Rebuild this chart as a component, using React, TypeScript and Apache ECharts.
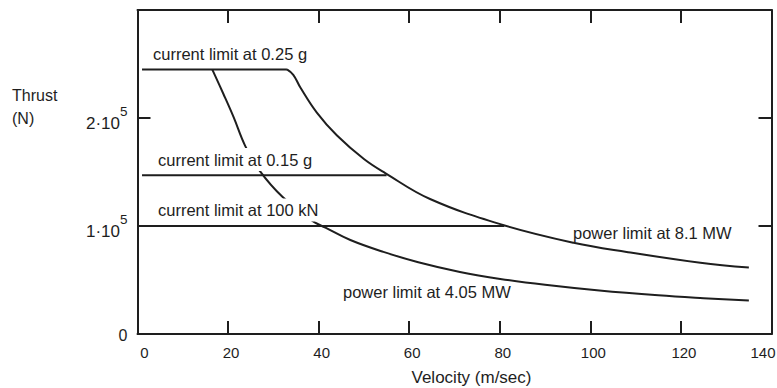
import React, { useEffect, useRef } from "react";
import * as echarts from "echarts";

// ---- data ----
const velocityTicks = [0, 20, 40, 60, 80, 100, 120, 140];
const yLabelMain = ["0", "1·10", "2·10"];
const yLabelExp = ["", "5", "5"];

const accel025V = [1, 33];
const accel025T = [245000, 245000];

const accel015V = [1, 55];
const accel015T = [147000, 147000];

const force100V = [0, 81];
const force100T = [100000, 100000];

const power81V = [33, 34.4, 36, 39.6, 44, 50, 54.7, 64.6, 80.7, 96.3, 108, 124.3, 135];
const power81T = [245000, 240000, 228000, 205000, 184000, 162000, 149000, 125000, 101000, 84500, 76000, 66000, 61500];

const power405V = [16.5, 19, 21.2, 23.8, 27, 32, 38.7, 41.5, 47, 54.3, 62, 71.2, 80.1, 90, 102, 115, 125, 135];
const power405T = [245000, 222000, 201000, 174000, 151000, 127000, 104500, 98500, 87000, 76000, 66500, 57500, 51000, 45500, 40200, 35800, 33200, 31000];

const labelTexts = [
  "current limit at 0.25 g",
  "current limit at 0.15 g",
  "current limit at 100 kN",
  "power limit at 4.05 MW",
  "power limit at 8.1 MW",
];

const FONT = '"Liberation Sans", Arial, Helvetica, sans-serif';
const INK = "#1e1e1e";

function pairs(xs: number[], ys: number[]) {
  return xs.map((x, i) => [x, ys[i]]);
}

export default function App() {
  const ref = useRef<HTMLDivElement>(null);

  useEffect(() => {
    if (!ref.current) return;
    const chart = echarts.init(ref.current, undefined, { renderer: "svg" });

    const lineStyle = { color: INK, width: 2 };
    const mkSeries = (data: number[][], smooth: boolean | number = false) => ({
      type: "line",
      data,
      showSymbol: false,
      symbol: "none",
      smooth,
      lineStyle,
      z: 2,
      silent: true,
    });

    const axisCommonX = {
      type: "value",
      min: velocityTicks[0],
      max: velocityTicks[velocityTicks.length - 1],
      interval: velocityTicks[1] - velocityTicks[0],
      splitLine: { show: false },
      axisLine: { show: true, onZero: false, lineStyle: { color: INK, width: 2 } },
      axisTick: { show: true, inside: true, length: 13, lineStyle: { color: INK, width: 2 } },
    };
    const axisCommonY = {
      type: "value",
      min: 0,
      max: 300000,
      interval: 100000,
      splitLine: { show: false },
      axisLine: { show: true, onZero: false, lineStyle: { color: INK, width: 2 } },
      axisTick: { show: true, inside: true, length: 13, lineStyle: { color: INK, width: 2 } },
    };

    const labelStyle = (text: string, x: number, y: number, bg: boolean) => ({
      type: "text",
      x,
      y,
      z: 100,
      silent: true,
      style: {
        text,
        font: `16.5px ${FONT}`,
        fill: INK,
        verticalAlign: "middle",
        align: "left",
        backgroundColor: bg ? "#ffffff" : undefined,
        padding: bg ? [3, 2, 3, 2] : 0,
      },
    });

    const xFirst = velocityTicks[0];
    const xLast = velocityTicks[velocityTicks.length - 1];
    const xTickStyle = { fontFamily: FONT, fontSize: 15, color: INK };

    chart.setOption({
      animation: false,
      backgroundColor: "#ffffff",
      grid: { left: 137.5, right: 5.5, top: 10, bottom: 54, containLabel: false, outerBoundsMode: "none" },
      xAxis: [
        {
          ...axisCommonX,
          position: "bottom",
          name: "Velocity (m/sec)",
          nameLocation: "middle",
          nameGap: 35,
          nameTextStyle: { fontFamily: FONT, fontSize: 17, color: INK, padding: [0, 0, 0, 34] },
          axisLabel: {
            show: true,
            margin: 11,
            formatter: (v: number) => {
              if (v === xFirst) return `{f|${v}}`;
              if (v === xLast) return `{l|${v}}`;
              return `{m|${v}}`;
            },
            rich: {
              f: { ...xTickStyle, padding: [0, 0, 0, 14] },
              m: { ...xTickStyle, padding: [0, 0, 0, 6] },
              l: { ...xTickStyle, padding: [0, 17, 0, 0] },
            },
          },
        },
        { ...axisCommonX, position: "top", axisLabel: { show: false } },
      ],
      yAxis: [
        {
          ...axisCommonY,
          position: "left",
          axisLabel: {
            show: true,
            margin: 10,
            formatter: (v: number) => {
              const i = Math.round(v / 100000);
              if (i >= yLabelMain.length) return "";
              if (!yLabelExp[i]) return `{z|${yLabelMain[i]}}`;
              return `{b|${yLabelMain[i]}}{s|${yLabelExp[i]}}`;
            },
            rich: {
              z: { fontFamily: FONT, fontSize: 16, color: INK, lineHeight: 20, padding: [3, 0, 0, 0] },
              b: { fontFamily: FONT, fontSize: 17, color: INK, lineHeight: 27, verticalAlign: "bottom" },
              s: { fontFamily: FONT, fontSize: 13.5, color: INK, lineHeight: 13, verticalAlign: "top" },
            },
          },
        },
        { ...axisCommonY, position: "right", axisLabel: { show: false } },
      ],
      graphic: [
        {
          type: "text",
          x: 12,
          y: 84,
          z: 100,
          silent: true,
          style: { text: "Thrust\n(N)", font: `16px ${FONT}`, fill: INK, lineHeight: 23 },
        },
        labelStyle(labelTexts[0], 153, 54, false),
        labelStyle(labelTexts[1], 156, 159.5, true),
        labelStyle(labelTexts[2], 156, 210, true),
        labelStyle(labelTexts[3], 343, 292, false),
        labelStyle(labelTexts[4], 573, 233, false),
      ],
      series: [
        mkSeries(pairs(accel025V, accel025T)),
        mkSeries(pairs(accel015V, accel015T)),
        mkSeries(pairs(force100V, force100T)),
        mkSeries(pairs(power81V, power81T), 0.4),
        mkSeries(pairs(power405V, power405T), 0.4),
      ],
    });

    return () => chart.dispose();
  }, []);

  return (
    <div
      ref={ref}
      style={{ position: "fixed", left: 0, top: 0, width: 777, height: 388, background: "#fff" }}
    />
  );
}
